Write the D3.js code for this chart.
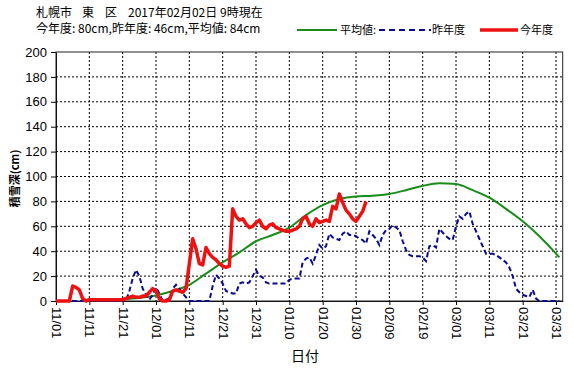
<!DOCTYPE html>
<html>
<head>
<meta charset="utf-8">
<script src="https://cdn.jsdelivr.net/npm/d3@7"></script>
<style>
body { margin: 0; background: #fff; }
text { font-family: "Noto Sans CJK JP", "DejaVu Sans", sans-serif; }
.num { font-family: "Liberation Sans Narrow", "Liberation Sans", sans-serif; }
</style>
</head>
<body>
<div id="chart"></div>
<script>
// day index 0 = 11/01
tickLabels = ["11/01","11/11","11/21","12/01","12/11","12/21","12/31","01/10","01/20","01/30","02/09","02/19","03/01","03/11","03/21","03/31"];
yTicks = [0,20,40,60,80,100,120,140,160,180,200];

// 今年度 (daily from 11/01 to 02/02)
thisYear = [0,0,0,0,0,12,11,9,2,0, 1,1,1,1,1,1,1,1,1,1, 1,2,3,4,3,3,4,4,7,10,
  8,2,0,0,1,8,9,8,7,10, 30,50,42,30,29,43,38,35,33,30, 28,27,28,74,68,65,66,62,59,60,
  63,65,60,58,61,62,59,58,57,56, 56,57,58,60,66,68,62,60,66,63, 64,65,64,76,74,86,79,73,70,66,
  64,68,72,80];

// 昨年度
lastDays = [0,21,22,23,24,25,26,27,28,29,30,31,32,34,35,36,37,38,39,40,46,47,48,49,50,51,52,53,54,55,56,57,58,59,60,61,62,63,64,69,70,71,72,73,74,75,76,77,78,79,80,81,82,83,84,85,86,87,88,89,90,91,92,93,94,95,96,97,98,99,100,101,102,103,104,105,106,107,108,109,110,111,112,113,114,115,116,117,118,119,120,121,122,123,124,125,126,127,128,129,130,131,132,133,134,135,136,137,138,139,140,141,142,143,144,145,151];
lastVals = [0,0,8,18,25,20,10,5,1,5,11,6,0,2,10,13,10,6,3,0,0,12,21,18,14,8,7,6,6,14,15,14,15,20,25,20,19,15,14,14,17,18,18,18,31,34,35,30,37,45,42,44,54,51,50,49,54,56,53,53,52,50,49,46,56,53,50,45,53,57,58,61,59,57,48,41,37,36,36,36,35,32,44,45,43,58,55,52,50,49,60,68,66,70,72,62,56,50,44,38,38,38,37,35,33,31,27,20,10,7,5,4,3,9,2,0,0];

// 平均値
avgDays = [10,15,20,25,30,35,40,45,50,55,60,65,70,75,80,85,90,95,100,105,110,115,120,125,130,135,140,145,150,151];
avgVals = [1,1,1.5,2.5,4.5,8,13,22,31,39,48,53,59,69,77,82,84,84.5,86,89,92.5,94.5,94,89,83,74,64,52,38,35];

const W = 574, H = 371;
const pLeft = 56, pRight = 562.7, pTop = 52, pBottom = 301;

const svg = d3.select("#chart").append("svg")
  .attr("width", W).attr("height", H);

const x = d3.scaleLinear().domain([0, 152]).range([pLeft, pRight]);
const y = d3.scaleLinear().domain([0, 200]).range([pBottom, pTop]);

// grid
svg.append("g").selectAll("line")
  .data(yTicks.slice(1, -1))
  .join("line")
  .attr("x1", pLeft).attr("x2", pRight)
  .attr("y1", d => y(d)).attr("y2", d => y(d))
  .attr("stroke", "#000").attr("stroke-width", 1)
  .attr("stroke-dasharray", "2,2");
svg.append("g").selectAll("line")
  .data(d3.range(10, 151, 10))
  .join("line")
  .attr("x1", d => x(d)).attr("x2", d => x(d))
  .attr("y1", pTop).attr("y2", pBottom)
  .attr("stroke", "#000").attr("stroke-width", 1)
  .attr("stroke-dasharray", "2,2");

// axes
const yAxis = svg.append("g")
  .attr("transform", `translate(${pLeft},0)`)
  .call(d3.axisLeft(y).tickValues(yTicks).tickSize(5).tickSizeOuter(0));
yAxis.selectAll("text").attr("class", "num").attr("font-size", "13px").attr("fill", "#000").attr("dx", "-1");
yAxis.select(".domain").attr("stroke", "#000");

const xAxis = svg.append("g")
  .attr("transform", `translate(0,${pBottom})`)
  .call(d3.axisBottom(x).tickValues(d3.range(0, 151, 10)).tickSize(4).tickSizeOuter(0)
    .tickFormat((d, i) => tickLabels[i]));
xAxis.selectAll("text")
  .attr("class", "num").attr("font-size", "13px").attr("fill", "#000")
  .attr("transform", "rotate(90)")
  .attr("x", 6).attr("y", 0).attr("dy", "0.35em")
  .style("text-anchor", "start");
xAxis.select(".domain").attr("stroke", "#000");

// frame
svg.append("rect")
  .attr("x", pLeft).attr("y", pTop)
  .attr("width", pRight - pLeft).attr("height", pBottom - pTop)
  .attr("fill", "none").attr("stroke", "#222").attr("stroke-width", 1);

// lines
const line = d3.line().x(d => x(d[0])).y(d => y(d[1]));

svg.append("path")
  .datum(avgDays.map((d, i) => [d, avgVals[i]]))
  .attr("d", line.curve(d3.curveMonotoneX))
  .attr("fill", "none").attr("stroke", "#1a8c1a").attr("stroke-width", 2);

svg.append("path")
  .datum(lastDays.map((d, i) => [d, lastVals[i]]))
  .attr("d", line.curve(d3.curveLinear))
  .attr("fill", "none").attr("stroke", "#0a0a8c").attr("stroke-width", 2)
  .attr("stroke-dasharray", "5,3");

svg.append("path")
  .datum(thisYear.map((v, i) => [i, v]))
  .attr("d", line.curve(d3.curveLinear))
  .attr("fill", "none").attr("stroke", "#ee1111").attr("stroke-width", 3.5)
  .attr("stroke-linejoin", "round");

// titles
const t1 = svg.append("text").attr("y", 17).attr("font-size", "12px").attr("fill", "#000");
t1.append("tspan").attr("x", 36).text("札幌市");
t1.append("tspan").attr("x", 82).text("東");
t1.append("tspan").attr("x", 105).text("区");
t1.append("tspan").attr("x", 128).text("2017年02月02日 9時現在");
svg.append("text").text("今年度: 80cm,昨年度: 46cm,平均値: 84cm")
  .attr("x", 36).attr("y", 33).attr("font-size", "12px").attr("fill", "#000");

// legend
svg.append("line").attr("x1", 297).attr("x2", 337).attr("y1", 30).attr("y2", 30)
  .attr("stroke", "#1a8c1a").attr("stroke-width", 2);
svg.append("text").text("平均値:").attr("x", 340).attr("y", 34).attr("font-size", "11px");
svg.append("line").attr("x1", 379).attr("x2", 431).attr("y1", 30).attr("y2", 30)
  .attr("stroke", "#0a0a8c").attr("stroke-width", 2).attr("stroke-dasharray", "6,4");
svg.append("text").text("昨年度").attr("x", 432).attr("y", 34).attr("font-size", "11px");
svg.append("line").attr("x1", 480).attr("x2", 518).attr("y1", 30).attr("y2", 30)
  .attr("stroke", "#ee1111").attr("stroke-width", 3.5);
svg.append("text").text("今年度").attr("x", 520).attr("y", 34).attr("font-size", "11px");

// axis titles
svg.append("text").text("積雪深(cm)")
  .attr("transform", `translate(19,${(pTop + pBottom) / 2 + 2}) rotate(-90)`)
  .attr("text-anchor", "middle").attr("font-size", "11px").attr("font-weight", "bold");
svg.append("text").text("日付")
  .attr("x", 305).attr("y", 361).attr("text-anchor", "middle").attr("font-size", "14px");
</script>
</body>
</html>
